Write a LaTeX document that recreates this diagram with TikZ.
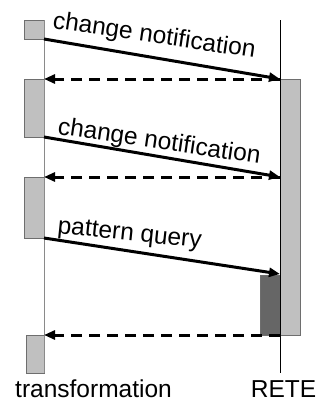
\documentclass[tikz,border=0pt]{standalone}
\usepackage{fontspec}
\setmainfont{Liberation Sans}
\usetikzlibrary{arrows.meta}
\definecolor{actfill}{HTML}{C0C0C0}
\definecolor{busyfill}{HTML}{666666}
\definecolor{boxline}{HTML}{6E6E6E}
\definecolor{lifegray}{HTML}{8A8A8A}
\tikzset{
  activation/.style={draw=boxline, line width=1pt, fill=actfill},
  busy/.style={draw=boxline, line width=1pt, fill=busyfill},
  lifeline/.style={line width=1pt},
  msg/.style={line width=3pt, -{Triangle[length=11pt,width=9pt]}},
  reply/.style={line width=3pt, dash pattern=on 11pt off 7pt, -{Triangle[length=11pt,width=9pt]}},
  msglabel/.style={font=\fontsize{24.5}{28}\selectfont, inner sep=0pt, anchor=base west},
  actor/.style={font=\fontsize{24.5}{28}\selectfont, inner sep=0pt, anchor=base}
}
\begin{document}
\begin{tikzpicture}[x=1pt,y=-1pt]
  \useasboundingbox (0,0) rectangle (329,402);

  % activation bars of the transformation
  \draw[activation] (24,20) rectangle (44,39);
  \draw[activation] (24,79) rectangle (44,137);
  \draw[activation] (24,177) rectangle (44,238);
  \draw[activation] (26.5,335) rectangle (44,373);

  % activation bars of RETE
  \draw[activation] (280,79) rectangle (300,335);
  \draw[busy] (260,275) rectangle (280,335);

  % lifelines
  \coordinate (tTop) at (44,20);
  \coordinate (tBot) at (44,373);
  \coordinate (rTop) at (280,20);
  \coordinate (rBot) at (280,373);
  \draw[lifeline, lifegray] (tTop) -- (tBot);
  \draw[lifeline, black] (rTop) -- (rBot);

  % message end points
  \coordinate (s1) at (44,39);
  \coordinate (e1) at (280,79);
  \coordinate (r1) at (44,79);
  \coordinate (s2) at (44,137);
  \coordinate (e2) at (280,177);
  \coordinate (r2) at (44,177);
  \coordinate (s3) at (44,238);
  \coordinate (e3) at (280,274);
  \coordinate (q3) at (280,335);
  \coordinate (r3) at (44,335);

  % messages and replies
  \draw[msg] (s1) -- (e1);
  \draw[reply] (e1) -- (r1);
  \draw[msg] (s2) -- (e2);
  \draw[reply] (e2) -- (r2);
  \draw[msg] (s3) -- (e3);
  \draw[reply] (q3) -- (r3);

  % message labels
  \node[msglabel, rotate=-8.4] (l1) at (52,28) {change notification};
  \node[msglabel, rotate=-8.4] (l2) at (57,134) {change notification};
  \node[msglabel, rotate=-6] (l3) at (57,233) {pattern query};

  % participant names
  \node[actor, anchor=base west] (tName) at (15,397.5) {transformation};
  \node[actor] (rName) at (283.5,397.5) {RETE};
\end{tikzpicture}
\end{document}
